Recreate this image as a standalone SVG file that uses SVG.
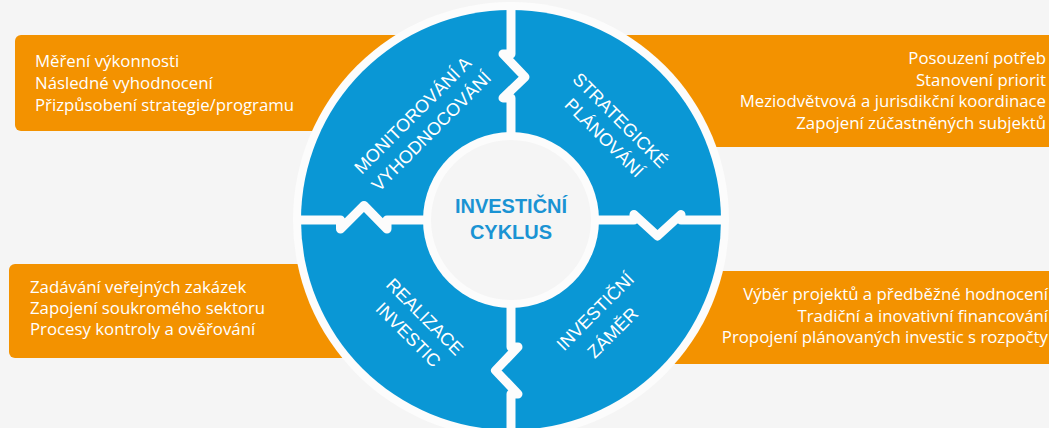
<svg xmlns="http://www.w3.org/2000/svg" width="1049" height="428" viewBox="0 0 1049 428">
<style>
.box{fill:#f39200}
.bt{font-family:"Open Sans","Liberation Sans",sans-serif;font-size:16.8px;fill:#ffffff}
.ql{font-family:"Liberation Sans",Arial,sans-serif;font-size:18px;fill:#ffffff;text-anchor:middle}
.ct{font-family:"Liberation Sans",Arial,sans-serif;font-size:20px;font-weight:bold;fill:#1a93d3;text-anchor:middle}
.gap{fill:none;stroke:#fcfcfc;stroke-width:9;stroke-linecap:round;stroke-linejoin:round}
</style>
<rect width="1049" height="428" fill="#f5f5f5"/>
<g id="box-monitorovani">
<rect class="box" x="15" y="35" width="420" height="96" rx="6"/>
<text class="bt" x="35" y="67">Měření výkonnosti</text>
<text class="bt" x="35" y="89">Následné vyhodnocení</text>
<text class="bt" x="35" y="111">Přizpůsobení strategie/programu</text>
</g>
<g id="box-strategicke">
<rect class="box" x="600" y="35" width="460" height="112" rx="6"/>
<text class="bt" x="1046" y="64" text-anchor="end">Posouzení potřeb</text>
<text class="bt" x="1046" y="85.7" text-anchor="end">Stanovení priorit</text>
<text class="bt" x="1046" y="107.3" text-anchor="end">Meziodvětvová a jurisdikční koordinace</text>
<text class="bt" x="1046" y="129" text-anchor="end">Zapojení zúčastněných subjektů</text>
</g>
<g id="box-realizace">
<rect class="box" x="9" y="264" width="420" height="94" rx="6"/>
<text class="bt" x="30" y="292.5">Zadávání veřejných zakázek</text>
<text class="bt" x="30" y="313.5">Zapojení soukromého sektoru</text>
<text class="bt" x="30" y="334.5">Procesy kontroly a ověřování</text>
</g>
<g id="box-zamer">
<rect class="box" x="600" y="271" width="460" height="93" rx="6"/>
<text class="bt" x="1048" y="300" text-anchor="end">Výběr projektů a předběžné hodnocení</text>
<text class="bt" x="1048" y="321.5" text-anchor="end">Tradiční a inovativní financování</text>
<text class="bt" x="1048" y="343" text-anchor="end">Propojení plánovaných investic s rozpočty</text>
</g>
<g id="cycle-wheel">
<circle cx="511" cy="220" r="218" fill="#fcfcfc"/>
<circle cx="511" cy="220" r="210" fill="#0a97d5"/>
</g>
<g id="connectors">
<path class="gap" d="M511,8 V54 H503 L525,77 L503,98 H511 V150"/>
<path class="gap" d="M580,220 H634 V214.5 L657.5,236 L681,214.5 V220 H724"/>
<path class="gap" d="M511,290 V347 H518 L495.5,370.5 L518,394 H511 V432"/>
<path class="gap" d="M298,220 H340.5 V229 L364,205.5 L387,229 V220 H440"/>
</g>
<g id="q-monitorovani">
<text class="ql" transform="translate(417.1,119.6) rotate(-45)">MONITOROVÁNÍ A</text>
<text class="ql" transform="translate(435.6,135.6) rotate(-45)">VYHODNOCOVÁNÍ</text>
</g>
<g id="q-strategicke">
<text class="ql" transform="translate(615.9,124.6) rotate(45)">STRATEGICKÉ</text>
<text class="ql" transform="translate(599.9,142.1) rotate(45)">PLÁNOVÁNÍ</text>
</g>
<g id="q-zamer">
<text class="ql" transform="translate(599.6,316.1) rotate(-45)">INVESTIČNÍ</text>
<text class="ql" transform="translate(617.1,337.1) rotate(-45)">ZÁMĚR</text>
</g>
<g id="q-realizace">
<text class="ql" transform="translate(420.4,321.1) rotate(45)">REALIZACE</text>
<text class="ql" transform="translate(403.9,339.1) rotate(45)">INVESTIC</text>
</g>
<g id="center">
<circle cx="511" cy="220" r="88" fill="#fcfcfc"/>
<circle cx="511" cy="220" r="80" fill="#f5f5f5"/>
<text class="ct" x="511" y="213.3">INVESTIČNÍ</text>
<text class="ct" x="511" y="239.3">CYKLUS</text>
</g>
</svg>
